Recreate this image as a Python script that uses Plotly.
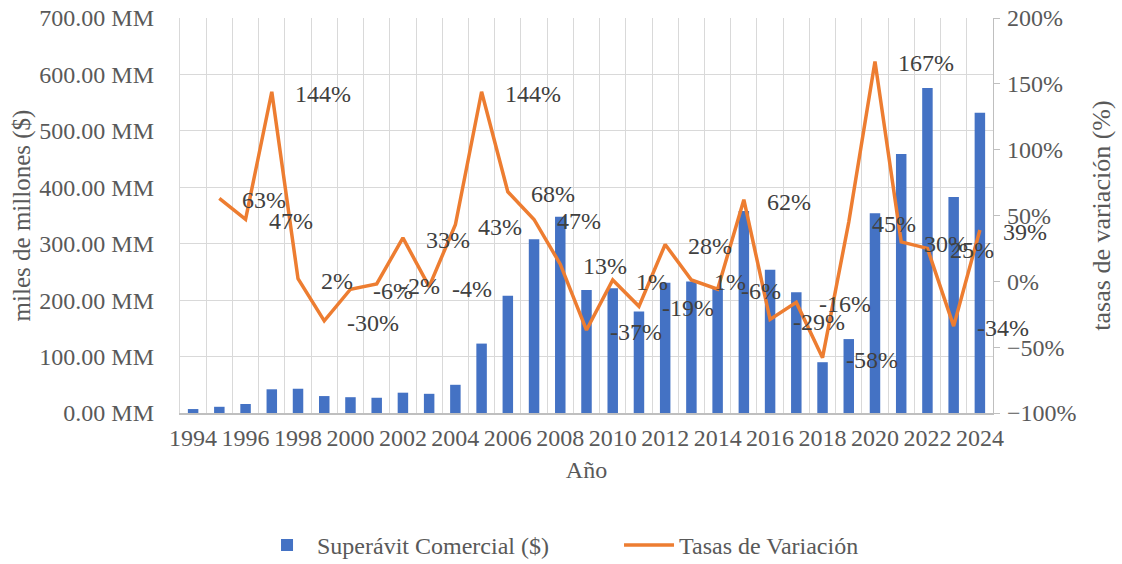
import plotly.graph_objects as go

# ---- data ----
years = list(range(1994, 2025))
superavit = [7, 11, 16, 42, 43, 30, 28, 27, 36, 34, 50, 123, 208, 308, 348, 218,
             221, 180, 231, 233, 221, 358, 254, 214, 90, 131, 354, 459, 576, 383, 532]
tasa_years = list(range(1995, 2025))
tasas = [63, 47, 144, 2, -30, -6, -2, 33, -4, 43, 144, 68, 47, 13, -37, 1, -19,
         28, 1, -6, 62, -29, -16, -58, 45, 167, 30, 25, -34, 39]
tick_years = list(range(1994, 2025, 2))
tick_labels = [str(y) for y in tick_years]

FONT = "'Liberation Serif', 'Times New Roman', Times, serif"
GRID = "#d9d9d9"
AXIS = "#bfbfbf"
TXT = "#595959"

fig = go.Figure()
fig.add_bar(x=years, y=superavit, name="Superávit Comercial ($)",
            marker=dict(color="#4472C4", line=dict(width=0)), width=0.4, yaxis="y")
fig.add_scatter(x=tasa_years, y=tasas, name="Tasas de Variación", mode="lines",
                line=dict(color="#ED7D31", width=3.5), yaxis="y2")

for x, v in zip(tasa_years, tasas):
    fig.add_annotation(x=x, y=v, xref="x", yref="y2", text=f"{v}%", showarrow=False,
                       xanchor="left", yanchor="middle", xshift=21, yshift=-2,
                       font=dict(family=FONT, size=24, color="#404040"))

minor_vals = [years[0] - 0.5 + i for i in range(len(years) + 1)]

fig.update_layout(
    width=1122, height=564,
    margin=dict(l=180, r=129, t=18, b=151, autoexpand=False),
    paper_bgcolor="white", plot_bgcolor="white",
    font=dict(family=FONT, size=24, color=TXT),
    bargap=0.6,
    showlegend=True,
    legend=dict(orientation="h", x=0.54, xanchor="center", y=-0.335, yanchor="middle",
                font=dict(family=FONT, size=24, color=TXT), itemwidth=50,
                entrywidth=297, entrywidthmode="pixels",
                bgcolor="rgba(0,0,0,0)"),
    xaxis=dict(
        range=[1993.5, 2024.5], tickmode="array", tickvals=tick_years, ticktext=tick_labels,
        showgrid=False, ticks="", showline=True, linecolor=AXIS, linewidth=1.5,
        zeroline=False, ticklabelstandoff=2,
        tickfont=dict(family=FONT, size=24, color=TXT),
        minor=dict(tickmode="array", tickvals=minor_vals, showgrid=True,
                   gridcolor=GRID, gridwidth=1.3, ticks=""),
        title=dict(text="Año", font=dict(family=FONT, size=24, color=TXT), standoff=12),
        automargin=False,
    ),
    yaxis=dict(
        range=[0, 700], tickmode="linear", tick0=0, dtick=100, tickformat=".2f",
        ticksuffix=" MM", showgrid=True, gridcolor=GRID, gridwidth=1.3,
        showline=True, linecolor=GRID, linewidth=1.3, zeroline=False, ticks="",
        ticklabelstandoff=20,
        tickfont=dict(family=FONT, size=24, color=TXT),
        title=dict(text="miles de millones ($)", font=dict(family=FONT, size=25, color=TXT),
                   standoff=1),
        automargin=False,
    ),
    yaxis2=dict(
        overlaying="y", side="right", range=[-100, 200], tickmode="linear", tick0=-100,
        dtick=50, ticksuffix="%", showgrid=False, zeroline=False,
        showline=True, linecolor=AXIS, linewidth=1.3, ticks="outside", ticklen=6,
        tickcolor=AXIS, ticklabelstandoff=2,
        tickfont=dict(family=FONT, size=24, color=TXT),
        title=dict(text="tasas de variación (%)", font=dict(family=FONT, size=26, color=TXT),
                   standoff=16),
        automargin=False,
    ),
)

fig.write_html("out.html", config={"displayModeBar": False},
               post_script="document.body.style.margin='0';")
